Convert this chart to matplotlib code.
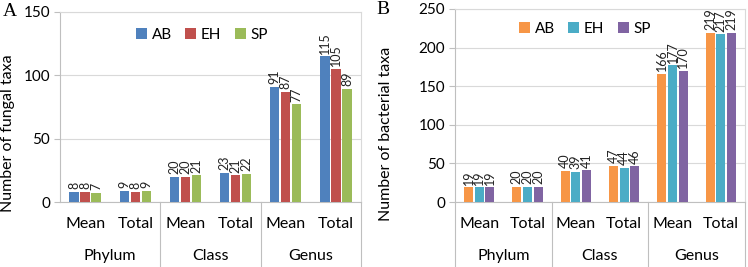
import matplotlib
matplotlib.use("Agg")
import matplotlib.pyplot as plt
import matplotlib.transforms as mtransforms
import numpy as np

plt.rcParams["font.family"] = ["Lato", "DejaVu Sans"]

W, H = 748, 267

sub_labels = ["Mean", "Total", "Mean", "Total", "Mean", "Total"]
groups = ["Phylum", "Class", "Genus"]
series = ["AB", "EH", "SP"]

fungal_AB = [8, 9, 20, 23, 91, 115]
fungal_EH = [8, 8, 20, 21, 87, 105]
fungal_SP = [7, 9, 21, 22, 77, 89]

bact_AB = [19, 20, 40, 47, 166, 219]
bact_EH = [19, 20, 39, 44, 177, 217]
bact_SP = [19, 20, 41, 46, 170, 219]

fungal_colors = ["#4F81BD", "#C0504D", "#9BBB59"]
bact_colors = ["#F79646", "#4BACC6", "#8064A2"]
GRID = "#BFBFBF"


def px_axes(fig, x0, y0, x1, y1):
    # pixel box (top-left origin) -> figure axes
    return fig.add_axes([x0 / W, 1 - y1 / H, (x1 - x0) / W, (y1 - y0) / H])


def panel(fig, box, data, colors, ymax, ystep, ylabel, letter, letter_xy, leg_xy,
          ylab_x, left_ext):
    ax = px_axes(fig, *box)
    x = np.arange(len(sub_labels))
    bw = 0.22
    for i, (vals, c, name) in enumerate(zip(data, colors, series)):
        bars = ax.bar(x + (i - 1) * bw, vals, bw * 0.85, color=c, label=name, zorder=3)
        ax.bar_label(bars, labels=[str(v) for v in vals], rotation=90, padding=2,
                     fontsize=9, color="#222222")
    ax.set_xlim(-0.5, len(sub_labels) - 0.5)
    ax.set_ylim(0, ymax)
    ax.set_yticks(np.arange(0, ymax + 1, ystep))
    ax.yaxis.grid(True, color="#D9D9D9", lw=0.8, zorder=0)
    ax.set_xticks([])
    ax.tick_params(axis="y", labelsize=11, length=4, color=GRID, pad=3)
    for s in ["top", "right"]:
        ax.spines[s].set_color("#D9D9D9")
        ax.spines[s].set_linewidth(0.8)
    for s in ["left", "bottom"]:
        ax.spines[s].set_color(GRID)
        ax.spines[s].set_linewidth(0.8)
    ax.set_ylabel(ylabel, fontsize=11.5)
    ax.yaxis.set_label_coords(ylab_x, 0.5, transform=fig.transFigure)

    tr = mtransforms.blended_transform_factory(ax.transData, fig.transFigure)
    for xi, lab in zip(x, sub_labels):
        ax.text(xi, 1 - 224 / H, lab, transform=tr, ha="center", va="center", fontsize=11.5)
    for gi, g in enumerate(groups):
        ax.text(2 * gi + 0.5, 1 - 256 / H, g, transform=tr, ha="center", va="center",
                fontsize=11.5)
    seps = [1.5, 3.5, 5.5] + ([-0.5] if left_ext else [])
    for sx in seps:
        ax.plot([sx, sx], [1 - box[3] / H, 0], transform=tr, color=GRID, lw=0.8,
                clip_on=False)

    fig.text(letter_xy[0] / W, 1 - letter_xy[1] / H, letter, fontsize=14,
             family=["Liberation Serif", "DejaVu Serif"], va="center", ha="left")
    ax.legend(loc="center", bbox_to_anchor=(leg_xy[0] / W, 1 - leg_xy[1] / H),
              bbox_transform=fig.transFigure, ncol=3, frameon=False, fontsize=11,
              handlelength=0.7, handleheight=0.7, handletextpad=0.3, columnspacing=0.9)
    return ax


fig = plt.figure(figsize=(W / 100, H / 100), dpi=100)
panel(fig, (60, 12, 361, 202), [fungal_AB, fungal_EH, fungal_SP], fungal_colors,
      150, 50, "Number of fungal taxa", "A", (3, 12), (202, 35), 15 / W, False)
panel(fig, (455, 9, 745, 202), [bact_AB, bact_EH, bact_SP], bact_colors,
      250, 50, "Number of bacterial taxa", "B", (376, 10), (585, 29), 393 / W, True)

fig.savefig("out.png", dpi=100)
